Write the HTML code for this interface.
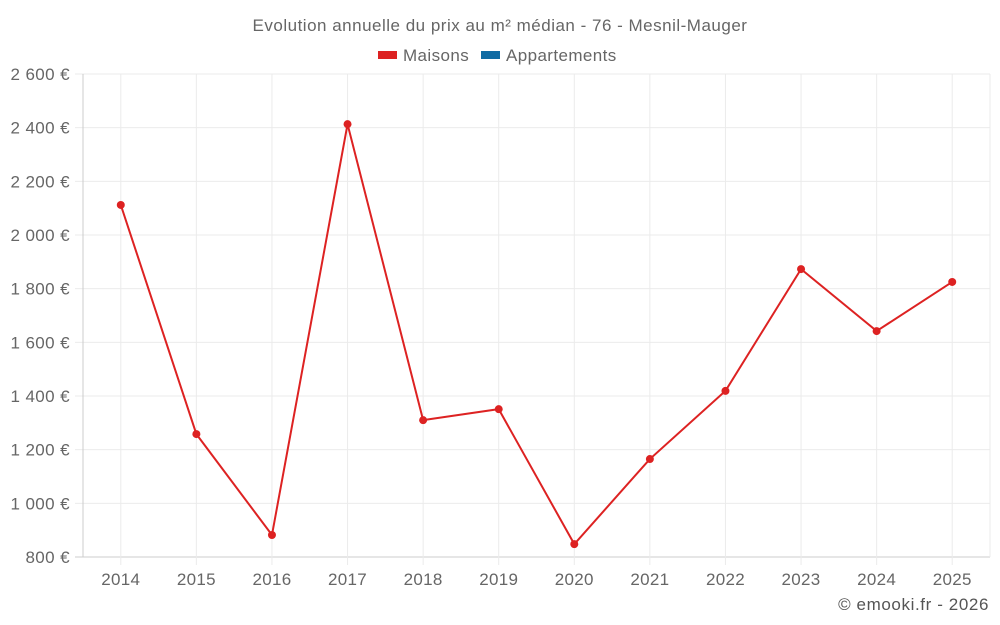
<!DOCTYPE html>
<html><head><meta charset="utf-8"><style>
body{margin:0;background:#fff;}
svg{display:block;font-family:"Liberation Sans",sans-serif;}
</style></head><body>
<svg id="chart" width="1000" height="625">
<text x="500" y="31" text-anchor="middle" font-size="17" letter-spacing="0.5" fill="#666">Evolution annuelle du prix au m² médian - 76 - Mesnil-Mauger</text>
<g><rect x="378" y="51" width="19" height="8" fill="#dd2222"/><text x="403" y="61" font-size="17" letter-spacing="0.4" fill="#666">Maisons</text></g>
<g><rect x="481" y="51" width="19" height="8" fill="#106ba3"/><text x="506" y="61" font-size="17" letter-spacing="0.4" fill="#666">Appartements</text></g>
<g id="grid"></g><g id="series"></g>
<text x="989" y="610" text-anchor="end" font-size="17" letter-spacing="0.6" fill="#555">© emooki.fr - 2026</text>
</svg>
<script>
const years=["2014","2015","2016","2017","2018","2019","2020","2021","2022","2023","2024","2025"];
const maisons=[2112,1258,882,2413,1310,1351,848,1165,1419,1873,1642,1825];
const yTicks=[800,1000,1200,1400,1600,1800,2000,2200,2400,2600];
const NS="http://www.w3.org/2000/svg";
const L=83,R=990,T=74,B=557,yMin=800,yMax=2600;
const step=(R-L)/years.length;
const xs=i=>L+step*(i+0.5);
const ys=v=>B-(v-yMin)/(yMax-yMin)*(B-T);
const fmt=v=>{const s=String(v);return (s.length>3?s.slice(0,-3)+" "+s.slice(-3):s)+" €";};
const g=document.getElementById('grid'),s=document.getElementById('series');
function mk(tag,attrs,parent){const e=document.createElementNS(NS,tag);for(const k in attrs)e.setAttribute(k,attrs[k]);parent.appendChild(e);return e;}
yTicks.forEach(v=>{
 const l=mk('line',{x1:L-8,x2:R,y1:ys(v),y2:ys(v),stroke:v===yMin?'#ccc':'#ebebeb'},g);
 
 
 const t=mk('text',{x:70,y:ys(v)+6,'text-anchor':'end','font-size':17,'letter-spacing':0.4,fill:'#666'},g);t.textContent=fmt(v);
 
 
});
[L,R].forEach(x=>{const l=mk('line',{x1:x,x2:x,y1:T,y2:B,stroke:x===L?'#ccc':'#ebebeb'},g);
 
 });
years.forEach((y,i)=>{
 const l=mk('line',{x1:xs(i),x2:xs(i),y1:T,y2:B+8,stroke:'#ebebeb'},g);
 
 
 const t=mk('text',{x:xs(i),y:585,'text-anchor':'middle','font-size':17,'letter-spacing':0.3,fill:'#666'},g);t.textContent=y;
 
 
});
const p=mk('polyline',{points:maisons.map((v,i)=>xs(i)+','+ys(v)).join(' '),fill:'none',stroke:'#dd2222','stroke-width':2},s);


maisons.forEach((v,i)=>{const c=mk('circle',{cx:xs(i),cy:ys(v),r:4,fill:'#dd2222'},s);
 
 });
</script>
</body></html>
